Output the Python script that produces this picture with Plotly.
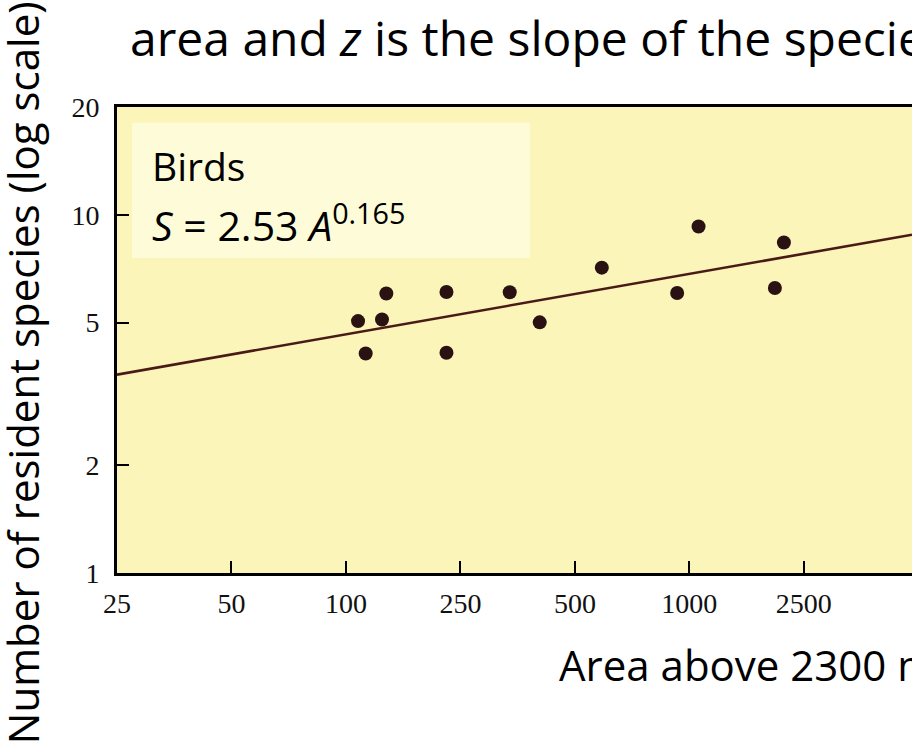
import plotly.graph_objects as go
import math

# ---- data (x in the axis' own units) ----
area = [107.6, 112.7, 124.4, 127.7, 183.8, 183.8, 269.6, 323.3, 470.8, 743.0, 845.8, 1342.8, 1418.0]
species = [5.05, 4.10, 5.10, 6.03, 6.09, 4.12, 6.08, 5.01, 7.12, 6.05, 9.28, 6.25, 8.37]

fit_area = [25, 3080]
fit_species = [3.58, 8.80]

x_tickvals = [25, 50, 100, 200, 400, 800, 1600]
x_ticktext = ["25", "50", "100", "250", "500", "1000", "2500"]
y_tickvals = [1, 2, 5, 10, 20]
y_ticktext = ["1", "2", "5", "10", "20"]

x_range = [25, 3080]
y_range = [1, 20]

PLOT_BG = "#FBF5BA"
BOX_BG = "#FEFCD8"
DOT = "#2A1212"
LINE = "#4A1A16"

fig = go.Figure()
fig.add_trace(go.Scatter(x=fit_area, y=fit_species, mode="lines",
                         line=dict(color=LINE, width=2.6), hoverinfo="skip"))
fig.add_trace(go.Scatter(x=area, y=species, mode="markers",
                         marker=dict(color=DOT, size=14, line=dict(width=0))))

tickfont = dict(family="Liberation Serif", size=28, color="#111")

fig.update_layout(
    width=912, height=745,
    margin=dict(l=117, r=0, t=107, b=172),
    paper_bgcolor="white", plot_bgcolor=PLOT_BG,
    showlegend=False,
    xaxis=dict(type="log", range=[math.log10(x_range[0]), math.log10(x_range[1])],
               tickmode="array", tickvals=x_tickvals, ticktext=x_ticktext,
               ticks="inside", ticklen=12, tickwidth=2, tickcolor="black",
               showline=True, linewidth=3, linecolor="black", mirror=True,
               showgrid=False, zeroline=False, tickfont=tickfont, ticklabelstandoff=3),
    yaxis=dict(type="log", range=[math.log10(y_range[0]), math.log10(y_range[1])],
               tickmode="array", tickvals=y_tickvals, ticktext=y_ticktext,
               ticks="inside", ticklen=12, tickwidth=2, tickcolor="black",
               showline=True, linewidth=3, linecolor="black",
               showgrid=False, zeroline=False, tickfont=tickfont, ticklabelstandoff=9),
)

# inset label box
fig.add_shape(type="rect", xref="paper", yref="paper",
              x0=0.019, x1=0.5195, y0=0.676, y1=0.966,
              fillcolor=BOX_BG, line=dict(width=0), layer="below")

sans = "Open Sans"
fig.add_annotation(xref="paper", yref="paper", x=0.041, y=0.875, xanchor="left", yanchor="middle",
                   text="Birds", showarrow=False, font=dict(family=sans, size=39, color="black"))
fig.add_annotation(xref="paper", yref="paper", x=0.041, y=0.752, xanchor="left", yanchor="middle",
                   text="<i>S</i> = 2.53 <i>A</i><sup>0.165</sup>", showarrow=False,
                   font=dict(family=sans, size=41, color="black"))

# slide texts around the chart
fig.add_annotation(xref="paper", yref="paper", x=0.0135, y=1.15, xanchor="left", yanchor="middle",
                   text="area and <i>z</i> is the slope of the species–area curve", showarrow=False,
                   font=dict(family=sans, size=48, color="black"))
fig.add_annotation(xref="paper", yref="paper", x=0.553, y=-0.191, xanchor="left", yanchor="middle",
                   text="Area above 2300 m (km<sup>2</sup>)", showarrow=False,
                   font=dict(family=sans, size=42, color="black"))
fig.add_annotation(xref="paper", yref="paper", x=-0.1195, y=0.431, xanchor="center", yanchor="middle",
                   text="Number of resident species (log scale)", textangle=-90, showarrow=False,
                   font=dict(family=sans, size=42, color="black"))

fig.write_html("out.html", config={"displayModeBar": False},
               post_script="document.body.style.margin='0';document.body.style.overflow='hidden';")
